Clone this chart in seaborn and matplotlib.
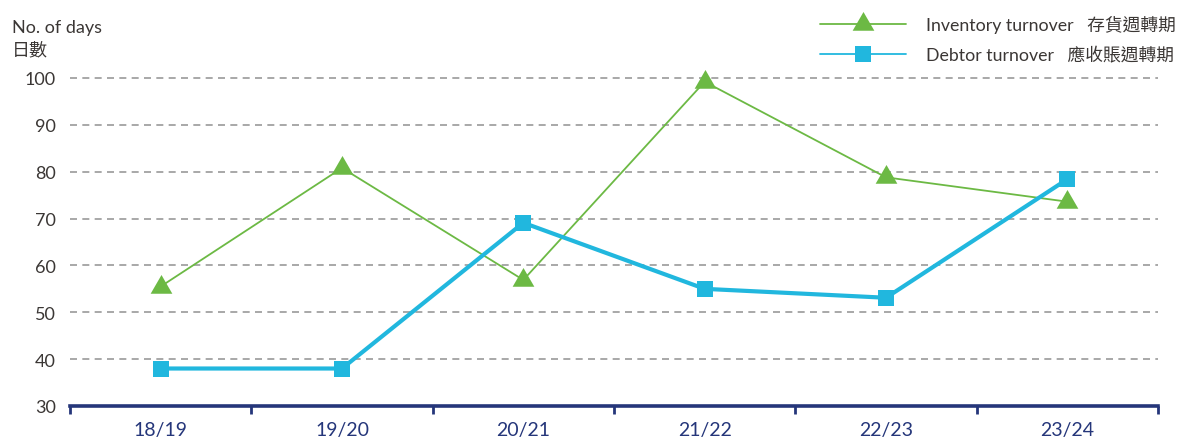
import matplotlib
matplotlib.use("Agg")
import matplotlib.pyplot as plt
import seaborn as sns
import pandas as pd
from matplotlib.lines import Line2D

years = ["18/19", "19/20", "20/21", "21/22", "22/23", "23/24"]
inventory = [55.5, 80.8, 56.9, 99.2, 78.8, 73.6]
debtor = [38.0, 38.0, 69.1, 55.0, 53.1, 78.4]
inv_label = "Inventory turnover   存貨週轉期"
deb_label = "Debtor turnover   應收賬週轉期"
yticks = [30, 40, 50, 60, 70, 80, 90, 100]

sns.set_theme(style="white")
plt.rcParams["font.family"] = ["Lato", "Noto Sans CJK TC", "DejaVu Sans"]

GREEN = "#6cb944"
BLUE = "#21b7de"
NAVY = "#25367a"
TXT = "#3b3735"

fig = plt.figure(figsize=(11.78, 4.39), dpi=100)
ax = fig.add_axes([70 / 1178, 32 / 439, 1088 / 1178, (407 - 69.6) / 439])

tri = [(0, 1.0), (-0.868, -0.5), (0.868, -0.5)]

df_inv = pd.DataFrame({"year": years, "value": inventory})
df_deb = pd.DataFrame({"year": years, "value": debtor})

sns.lineplot(data=df_inv, x="year", y="value", ax=ax, color=GREEN, linewidth=1.3,
             marker=tri, markersize=18, markeredgewidth=0, markerfacecolor=GREEN, zorder=3)
sns.lineplot(data=df_deb, x="year", y="value", ax=ax, color=BLUE, linewidth=3,
             marker="s", markersize=11.5, markeredgewidth=0, markerfacecolor=BLUE, zorder=4)

ax.set_xlim(-0.5, 5.5)
ax.set_ylim(30, 102)
ax.set_yticks(yticks)
ax.set_yticklabels([str(v) for v in yticks])
ax.set_xticks(range(len(years)))
ax.set_xticklabels(years)
ax.set_xticks([i - 0.5 for i in range(len(years) + 1)], minor=True)

for y in yticks[1:]:
    ax.axhline(y, color="#999999", linewidth=1.2, linestyle=(0, (4.2, 3.2)), zorder=1)

for s in ["top", "right", "left"]:
    ax.spines[s].set_visible(False)
ax.spines["bottom"].set_color(NAVY)
ax.spines["bottom"].set_linewidth(2.6)
ax.spines["bottom"].set_zorder(5)

ax.tick_params(axis="x", which="both", bottom=True)
ax.tick_params(axis="x", which="major", length=0, pad=11, labelsize=14, labelcolor=NAVY)
ax.tick_params(axis="x", which="minor", length=5.5, width=2, color=NAVY, direction="out")
ax.tick_params(axis="y", length=0, pad=10, labelsize=13, labelcolor=TXT)
ax.set_xlabel("")
ax.set_ylabel("")
ax.grid(False)

fig.text(12 / 1178, 1 - 33 / 439, "No. of days", fontsize=13, color=TXT, va="baseline", ha="left")
fig.text(12 / 1178, 1 - 55 / 439, "日數", fontsize=13, color=TXT, va="baseline", ha="left")

handles = [
    Line2D([], [], color=GREEN, linewidth=1.3, marker=tri, markersize=18,
           markeredgewidth=0, markerfacecolor=GREEN),
    Line2D([], [], color=BLUE, linewidth=1.3, marker="s", markersize=11.5,
           markeredgewidth=0, markerfacecolor=BLUE),
]
leg = fig.legend(handles, [inv_label, deb_label], loc="upper left",
                 bbox_to_anchor=(820 / 1178, 1 - 16 / 439), frameon=False,
                 fontsize=12.8, handlelength=4.85, handletextpad=1.1,
                 labelspacing=0.75, borderpad=0, borderaxespad=0, labelcolor=TXT)

fig.savefig("out.png", dpi=100)
